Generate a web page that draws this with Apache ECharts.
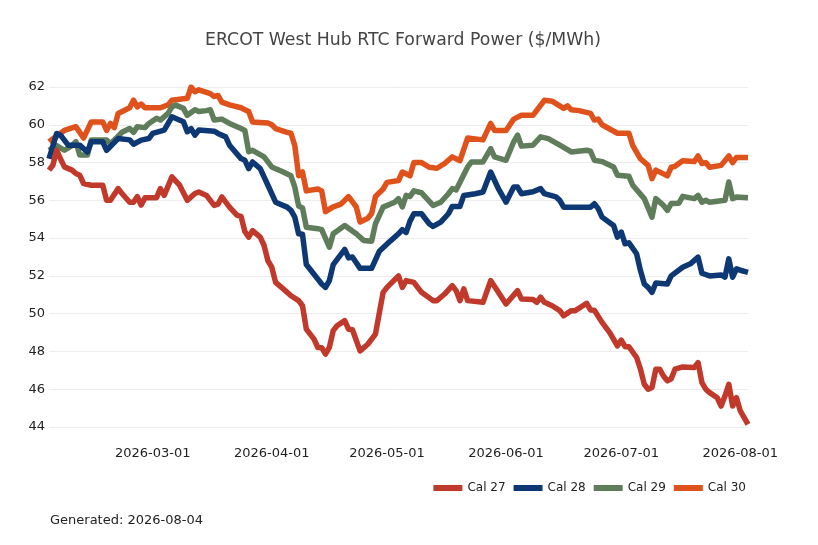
<!DOCTYPE html>
<html>
<head>
<meta charset="utf-8">
<script src="https://cdn.jsdelivr.net/npm/echarts@6/dist/echarts.min.js"></script>
<style>
html,body{margin:0;padding:0;background:#fff;}
#chart{width:818px;height:545px;}
</style>
</head>
<body>
<div id="chart"></div>
<script>
const YEAR = '2026';
const seriesNames = ['Cal 27', 'Cal 28', 'Cal 29', 'Cal 30'];
const seriesColors = ['#c0392b', '#0d3873', '#5f7d5a', '#e0521b'];
const xTickLabels = ['2026-03-01', '2026-04-01', '2026-05-01', '2026-06-01', '2026-07-01', '2026-08-01'];
const yTicks = [44, 46, 48, 50, 52, 54, 56, 58, 60, 62];

const cal27Dates = ['02-02','02-03','02-04','02-05','02-06','02-08','02-09','02-10','02-11','02-13','02-16','02-17','02-18','02-20','02-21','02-23','02-24','02-25','02-26','02-27','03-02','03-03','03-04','03-06','03-08','03-10','03-12','03-13','03-15','03-17','03-18','03-19','03-21','03-23','03-24','03-25','03-26','03-27','03-29','03-30','03-31','04-01','04-02','04-04','04-06','04-08','04-09','04-10','04-12','04-13','04-14','04-15','04-16','04-17','04-18','04-20','04-21','04-22','04-24','04-26','04-28','04-30','05-01','05-04','05-05','05-06','05-08','05-10','05-13','05-14','05-16','05-18','05-19','05-20','05-21','05-22','05-26','05-28','05-30','06-01','06-04','06-05','06-08','06-09','06-10','06-11','06-13','06-15','06-16','06-18','06-19','06-21','06-22','06-23','06-24','06-26','06-28','06-30','07-01','07-02','07-03','07-05','07-06','07-07','07-08','07-09','07-10','07-11','07-12','07-13','07-14','07-15','07-17','07-20','07-21','07-22','07-23','07-24','07-26','07-27','07-28','07-29','07-30','07-31','08-01','08-03'];
const cal27Values = [57.6,57.86,58.65,58.2,57.77,57.6,57.42,57.33,56.89,56.8,56.8,56.0,56.0,56.62,56.36,55.9,55.9,56.2,55.75,56.14,56.14,56.62,56.26,57.24,56.8,56.0,56.36,56.44,56.26,55.73,55.8,56.18,55.64,55.2,55.15,54.35,54.05,54.4,54.05,53.61,52.8,52.46,51.66,51.31,50.95,50.69,50.42,49.18,48.65,48.21,48.2,47.86,48.21,49.1,49.36,49.63,49.18,49.15,48.03,48.38,48.92,51.13,51.39,52.0,51.39,51.75,51.66,51.13,50.69,50.69,51.04,51.48,51.22,50.69,51.31,50.69,50.6,51.75,51.13,50.51,51.22,50.78,50.75,50.6,50.87,50.6,50.42,50.16,49.89,50.16,50.16,50.42,50.55,50.2,50.18,49.54,49.0,48.3,48.6,48.25,48.25,47.68,47.06,46.26,46.0,46.09,47.06,47.06,46.7,46.44,46.55,47.06,47.18,47.15,47.41,46.35,46.0,45.82,45.55,45.11,45.64,46.26,45.11,45.55,44.85,44.14];

const cal28Dates = ['02-02','02-04','02-05','02-07','02-10','02-12','02-13','02-16','02-17','02-20','02-23','02-24','02-26','02-28','03-01','03-04','03-06','03-09','03-10','03-11','03-12','03-13','03-17','03-18','03-20','03-21','03-24','03-25','03-26','03-27','03-29','03-31','04-02','04-05','04-06','04-07','04-08','04-09','04-10','04-14','04-15','04-16','04-17','04-20','04-21','04-22','04-24','04-27','04-29','05-02','05-04','05-05','05-06','05-07','05-08','05-10','05-12','05-13','05-15','05-17','05-18','05-20','05-21','05-24','05-26','05-28','05-30','06-01','06-03','06-04','06-05','06-08','06-10','06-11','06-14','06-15','06-16','06-23','06-24','06-25','06-26','06-29','06-30','07-01','07-02','07-03','07-05','07-06','07-07','07-08','07-09','07-10','07-13','07-14','07-17','07-19','07-21','07-22','07-24','07-27','07-28','07-29','07-30','07-31','08-01','08-03'];
const cal28Values = [58.2,59.54,59.45,58.92,58.92,58.56,59.1,59.1,58.65,59.27,59.2,58.97,59.19,59.27,59.54,59.72,60.42,60.16,59.63,59.8,59.45,59.72,59.66,59.54,59.36,58.92,58.21,58.12,57.68,58.03,57.68,56.8,55.9,55.64,55.47,55.11,54.23,54.2,52.6,51.57,51.39,51.75,52.6,53.4,52.95,53.0,52.4,52.4,53.3,53.87,54.23,54.45,54.3,54.9,55.29,55.29,54.76,54.62,54.85,55.29,55.68,55.68,56.26,56.35,56.44,57.5,56.62,55.9,56.7,56.7,56.35,56.45,56.62,56.35,56.18,56.0,55.64,55.64,55.82,55.56,55.11,54.67,54.05,54.32,53.7,53.75,53.17,52.28,51.57,51.39,51.13,51.62,51.57,52.0,52.46,52.64,52.99,52.14,52.0,52.05,51.93,52.9,51.93,52.37,52.3,52.19];

const cal29Dates = ['02-02','02-04','02-06','02-08','02-09','02-10','02-12','02-13','02-17','02-18','02-20','02-21','02-23','02-24','02-25','02-27','02-28','03-02','03-03','03-05','03-06','03-07','03-09','03-10','03-12','03-13','03-15','03-16','03-17','03-19','03-21','03-24','03-25','03-26','03-27','03-30','04-01','04-04','04-06','04-07','04-08','04-09','04-10','04-13','04-14','04-16','04-17','04-20','04-23','04-25','04-27','04-28','04-30','05-03','05-04','05-05','05-06','05-07','05-08','05-10','05-13','05-15','05-17','05-18','05-19','05-22','05-23','05-26','05-28','05-29','06-01','06-03','06-04','06-05','06-08','06-10','06-12','06-15','06-18','06-22','06-23','06-24','06-26','06-29','06-30','07-03','07-04','07-07','07-09','07-10','07-12','07-13','07-14','07-16','07-17','07-20','07-21','07-22','07-23','07-24','07-28','07-29','07-30','07-31','08-03'];
const cal29Values = [58.65,58.9,58.65,58.9,59.1,58.4,58.4,59.2,59.2,59.0,59.4,59.6,59.8,59.6,59.9,59.85,60.07,60.34,60.25,60.6,60.95,61.04,60.87,60.5,60.8,60.7,60.75,60.8,60.25,60.3,60.07,59.8,59.7,58.57,58.65,58.3,57.77,57.5,57.3,56.7,55.7,55.6,54.58,54.5,54.45,53.52,54.23,54.67,54.23,53.87,53.84,54.76,55.64,55.9,56.09,55.65,56.26,56.2,56.5,56.4,55.73,55.9,56.35,56.62,56.55,57.77,58.03,58.03,58.74,58.3,58.12,59.1,59.45,58.87,58.92,59.36,59.27,58.92,58.56,58.65,58.6,58.12,58.05,57.77,57.33,57.27,56.8,56.09,55.11,56.09,55.73,55.47,55.83,55.85,56.21,56.09,56.26,55.9,56.0,55.9,56.0,56.97,56.09,56.18,56.14];

const cal30Dates = ['02-02','02-06','02-09','02-11','02-13','02-16','02-17','02-18','02-19','02-20','02-23','02-24','02-25','02-26','02-27','03-03','03-05','03-06','03-10','03-11','03-12','03-13','03-16','03-17','03-18','03-19','03-21','03-24','03-25','03-26','03-27','03-31','04-01','04-02','04-05','04-06','04-07','04-08','04-09','04-10','04-13','04-14','04-15','04-17','04-19','04-21','04-23','04-24','04-26','04-27','04-28','04-30','05-01','05-04','05-05','05-07','05-08','05-10','05-12','05-14','05-16','05-18','05-20','05-22','05-26','05-28','05-29','06-01','06-03','06-05','06-08','06-11','06-13','06-16','06-17','06-18','06-20','06-23','06-24','06-25','06-26','06-30','07-03','07-04','07-06','07-08','07-09','07-10','07-12','07-13','07-14','07-15','07-17','07-20','07-21','07-22','07-23','07-24','07-27','07-29','07-30','07-31','08-03'];
const cal30Values = [59.1,59.7,59.9,59.3,60.15,60.15,59.7,60.07,59.85,60.6,60.9,61.3,60.95,61.1,60.9,60.9,61.05,61.3,61.4,62.0,61.75,61.85,61.65,61.5,61.55,61.2,61.05,60.9,60.8,60.7,60.15,60.1,60.0,59.8,59.6,59.55,58.9,57.3,57.5,56.5,56.6,56.5,55.4,55.65,55.8,56.2,55.65,54.85,55.05,55.3,56.2,56.6,56.95,57.05,57.5,57.3,58.0,58.0,57.75,57.7,57.95,58.3,58.1,59.3,59.2,60.07,59.7,59.7,60.3,60.5,60.5,61.3,61.25,60.87,61.0,60.8,60.75,60.6,60.25,60.3,60.0,59.55,59.55,58.9,58.2,57.85,57.15,57.6,57.4,57.3,57.75,57.8,58.1,58.05,58.35,57.95,58.0,57.75,57.85,58.35,58.0,58.27,58.27];

const allDates = [cal27Dates, cal28Dates, cal29Dates, cal30Dates];
const allValues = [cal27Values, cal28Values, cal29Values, cal30Values];

function toTime(s) {
  const p = s.split('-').map(Number);
  return new Date(p[0], p[1] - 1, p[2]).getTime();
}
function fmt(t) {
  const d = new Date(t);
  const mm = String(d.getMonth() + 1).padStart(2, '0');
  const dd = String(d.getDate()).padStart(2, '0');
  return d.getFullYear() + '-' + mm + '-' + dd;
}
const tickSet = new Set(xTickLabels);

const FONT = 'DejaVu Sans';
const chart = echarts.init(document.getElementById('chart'), null, {renderer: 'canvas'});

const series = seriesNames.map((name, i) => ({
  name: name,
  type: 'line',
  data: allDates[i].map((d, j) => [toTime(YEAR + '-' + d), allValues[i][j]]),
  showSymbol: false,
  symbol: 'none',
  lineStyle: {width: 5.5, color: seriesColors[i], join: 'round'},
  itemStyle: {color: seriesColors[i]},
  z: 10 - i,
  animation: false
}));

chart.setOption({
  animation: false,
  textStyle: {fontFamily: FONT},
  title: {
    text: 'ERCOT West Hub RTC Forward Power ($/MWh)',
    left: 398,
    textAlign: 'center',
    top: 27,
    textStyle: {fontFamily: FONT, fontSize: 17.3, fontWeight: 'normal', color: '#444'}
  },
  legend: {
    data: seriesNames.map(n => ({name: n, icon: 'rect'})),
    right: 67,
    top: 477,
    itemWidth: 29,
    itemHeight: 6,
    itemGap: 8,
    itemStyle: {borderWidth: 0},
    lineStyle: {width: 0},
    textStyle: {fontFamily: FONT, fontSize: 12, color: '#222'}
  },
  graphic: [{
    type: 'text',
    left: 50,
    top: 514,
    style: {text: 'Generated: 2026-08-04', font: '13px "DejaVu Sans"', fill: '#222'}
  }],
  grid: {left: 49, right: 70, top: 87, bottom: 118, containLabel: false},
  xAxis: {
    type: 'time',
    min: toTime(YEAR + '-02-02'),
    max: toTime(YEAR + '-08-03'),
    splitNumber: 6,
    minInterval: 28 * 24 * 3600 * 1000,
    axisLine: {show: false},
    axisTick: {show: false},
    splitLine: {show: false},
    axisLabel: {
      formatter: v => { const s = fmt(v); return tickSet.has(s) ? s : ''; },
      margin: 20,
      fontFamily: FONT,
      fontSize: 13,
      color: '#222',
      showMinLabel: false,
      showMaxLabel: false,
      hideOverlap: false
    }
  },
  yAxis: {
    type: 'value',
    min: yTicks[0],
    max: yTicks[yTicks.length - 1],
    interval: 2,
    axisLine: {show: false},
    axisTick: {show: false},
    splitLine: {show: true, lineStyle: {color: '#ececec', width: 1}},
    axisLabel: {margin: 4, fontFamily: FONT, fontSize: 13, color: '#222'}
  },
  series: series
});
</script>
</body>
</html>
